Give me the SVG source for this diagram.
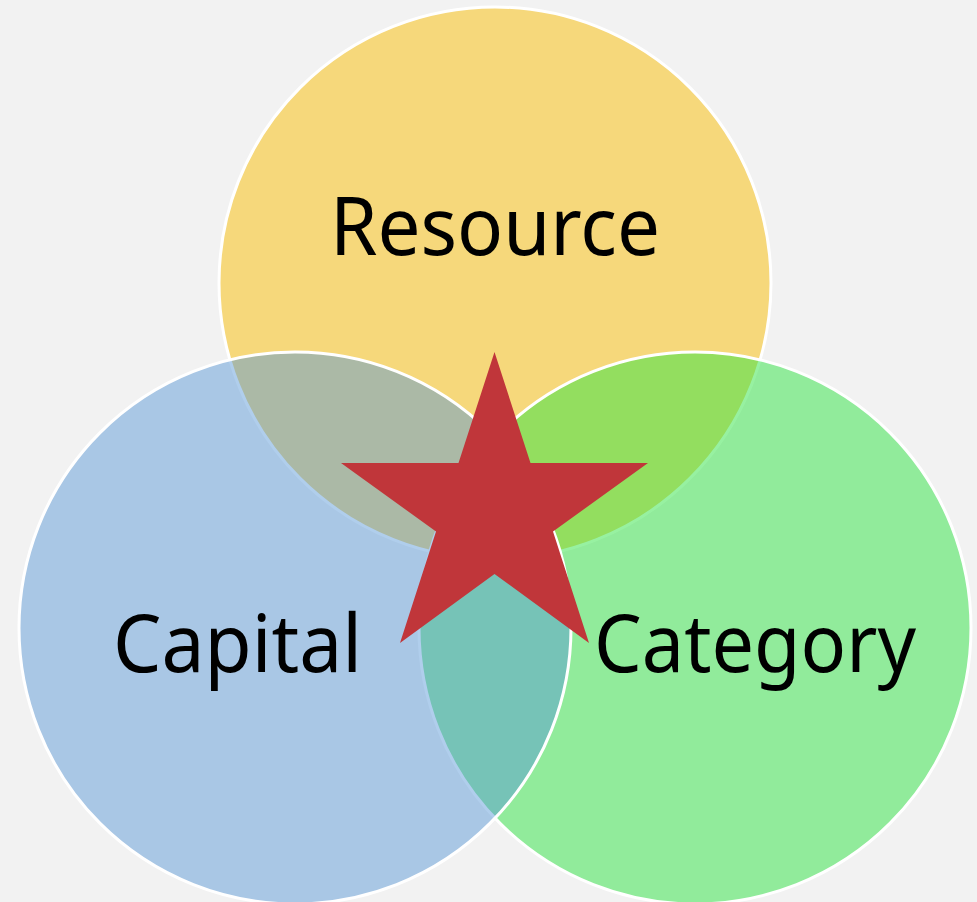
<svg xmlns="http://www.w3.org/2000/svg" width="977" height="902" viewBox="0 0 977 902">
<style>
.c{stroke:#ffffff;stroke-width:3}
.t{font-family:"Noto Sans","Open Sans","DejaVu Sans",sans-serif;font-size:80px;fill:#000000}
</style>
<rect x="0" y="0" width="977" height="902" fill="#f2f2f2"/>
<g id="resource">
<circle class="c" cx="495" cy="283" r="276" fill="#f6d87b"/>
</g>
<g id="category">
<circle class="c" cx="695" cy="628" r="276" fill="#30e444" fill-opacity="0.5"/>
</g>
<g id="capital">
<circle class="c" cx="295" cy="628" r="276" fill="#5796d6" fill-opacity="0.47"/>
</g>
<g id="star">
<polygon points="494.5,352 458.5,463 341,463 436,531.5 400,643 494.5,574 589,643 553,531.5 648,463 530.5,463" fill="#c0363a"/>
</g>
<g id="labels">
<text class="t" x="495" y="255" text-anchor="middle" textLength="330" lengthAdjust="spacingAndGlyphs">Resource</text>
<text class="t" x="113" y="672" textLength="249" lengthAdjust="spacingAndGlyphs">Capital</text>
<text class="t" x="594" y="672" textLength="322" lengthAdjust="spacingAndGlyphs">Category</text>
</g>
<g id="connectors"/>
</svg>
